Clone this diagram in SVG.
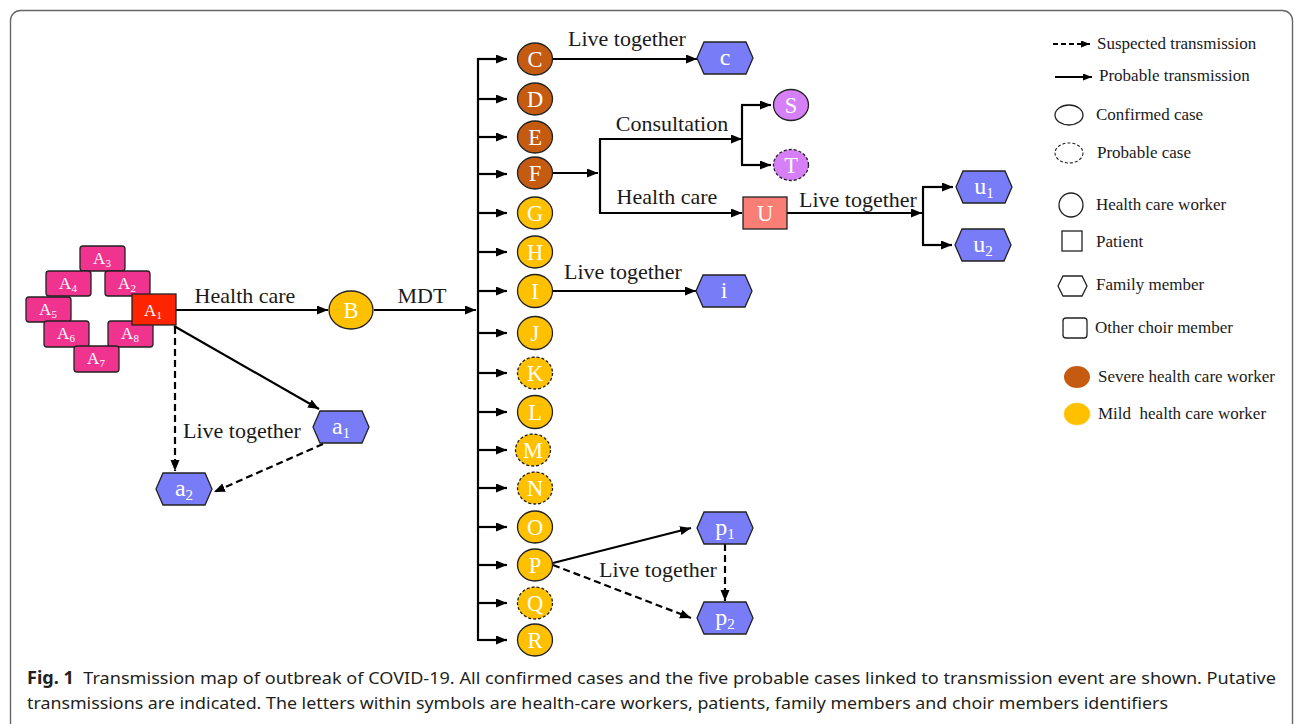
<svg xmlns="http://www.w3.org/2000/svg" width="1295" height="724" viewBox="0 0 1295 724">
<defs>
<marker id="ah" markerUnits="userSpaceOnUse" markerWidth="12" markerHeight="10" refX="11" refY="4.5" orient="auto">
<path d="M0,0 L11,4.5 L0,9 Z" fill="#000"/>
</marker>
<marker id="ahs" markerUnits="userSpaceOnUse" markerWidth="10" markerHeight="8" refX="9" refY="3.5" orient="auto">
<path d="M0,0 L9,3.5 L0,7 Z" fill="#000"/>
</marker>
<style>
.ln{stroke:#000;stroke-width:2.2;fill:none}
.dash{stroke-dasharray:7,4}
.arr{marker-end:url(#ah)}
.lbl{font-family:"Liberation Serif","Times New Roman",serif;font-size:22px;fill:#1a1a1a;text-anchor:middle}
.nt{font-family:"Liberation Serif","Times New Roman",serif;font-size:22.5px;fill:#fff;text-anchor:middle}
.at{font-family:"Liberation Serif","Times New Roman",serif;font-size:17px;fill:#fff;text-anchor:middle}
.ht{font-family:"Liberation Serif","Times New Roman",serif;font-size:24px;fill:#fff;text-anchor:middle}
.lg{font-family:"Liberation Serif","Times New Roman",serif;font-size:17px;fill:#1a1a1a}
.sev{fill:#c55a11;stroke:#222;stroke-width:1.3}
.mild{fill:#ffc000;stroke:#222;stroke-width:1.3}
.prob{stroke-dasharray:3,2}
.pur{fill:#d77ff6;stroke:#222;stroke-width:1.3}
.hex{fill:#797cf7;stroke:#222;stroke-width:1.3}
.ach{fill:#f0338f;stroke:#222;stroke-width:1.3}
.cap{font-family:"Noto Sans","Open Sans","Liberation Sans",sans-serif;font-size:17px;fill:#231f20}
</style>
</defs>
<rect x="10.5" y="10.5" width="1282" height="740" rx="10" fill="#fff" stroke="#666" stroke-width="1.4"/>

<g id="connectors">
<line class="ln arr" x1="176" y1="310" x2="328" y2="310"/>
<line class="ln arr" x1="374" y1="310" x2="476" y2="310"/>
<line class="ln" x1="478" y1="58" x2="478" y2="641"/>
<line class="ln arr" x1="477" y1="59" x2="507" y2="59"/>
<line class="ln arr" x1="477" y1="99" x2="507" y2="99"/>
<line class="ln arr" x1="477" y1="137" x2="507" y2="137"/>
<line class="ln arr" x1="477" y1="174" x2="507" y2="174"/>
<line class="ln arr" x1="477" y1="213" x2="507" y2="213"/>
<line class="ln arr" x1="477" y1="252" x2="507" y2="252"/>
<line class="ln arr" x1="477" y1="291" x2="507" y2="291"/>
<line class="ln arr" x1="477" y1="333" x2="507" y2="333"/>
<line class="ln arr" x1="477" y1="373" x2="507" y2="373"/>
<line class="ln arr" x1="477" y1="412" x2="507" y2="412"/>
<line class="ln arr" x1="477" y1="450" x2="507" y2="450"/>
<line class="ln arr" x1="477" y1="488" x2="507" y2="488"/>
<line class="ln arr" x1="477" y1="527" x2="507" y2="527"/>
<line class="ln arr" x1="477" y1="565" x2="507" y2="565"/>
<line class="ln arr" x1="477" y1="603" x2="507" y2="603"/>
<path class="ln arr" d="M478,640 L507,640"/>
<line class="ln arr" x1="553" y1="59" x2="697" y2="59"/>
<line class="ln arr" x1="553" y1="173" x2="598" y2="173"/>
<path class="ln" d="M600,139 L600,213"/>
<line class="ln arr" x1="599" y1="139" x2="742" y2="139"/>
<path class="ln" d="M742,105 L742,165"/>
<line class="ln arr" x1="741" y1="105" x2="771" y2="105"/>
<line class="ln arr" x1="741" y1="165" x2="771" y2="165"/>
<line class="ln arr" x1="599" y1="213" x2="742" y2="213"/>
<line class="ln arr" x1="787" y1="213" x2="922" y2="213"/>
<path class="ln" d="M923,187 L923,245"/>
<line class="ln arr" x1="922" y1="187" x2="953" y2="187"/>
<line class="ln arr" x1="922" y1="245" x2="952" y2="245"/>
<line class="ln arr" x1="553" y1="291" x2="696" y2="291"/>
<line class="ln arr" x1="174" y1="326" x2="319" y2="409"/>
<line class="ln dash arr" x1="175" y1="327" x2="175" y2="471"/>
<line class="ln dash arr" x1="323" y1="444" x2="214" y2="492"/>
<line class="ln arr" x1="553" y1="563" x2="691" y2="528"/>
<line class="ln dash arr" x1="553" y1="565" x2="691" y2="618"/>
<line class="ln dash arr" x1="725" y1="544" x2="725" y2="601"/>
</g>

<g id="labels">
<text class="lbl" x="245" y="303">Health care</text>
<text class="lbl" x="422" y="303">MDT</text>
<text class="lbl" x="627" y="46">Live together</text>
<text class="lbl" x="672" y="131">Consultation</text>
<text class="lbl" x="667" y="204">Health care</text>
<text class="lbl" x="858" y="207">Live together</text>
<text class="lbl" x="623" y="279">Live together</text>
<text class="lbl" x="242" y="438">Live together</text>
<text class="lbl" x="658" y="577">Live together</text>
</g>

<g id="node-A3"><rect class="ach" x="80" y="246" width="45" height="25" rx="3"/><text class="at" x="102" y="264">A<tspan font-size="11" dy="3">3</tspan></text></g>
<g id="node-A4"><rect class="ach" x="46" y="271" width="45" height="25" rx="3"/><text class="at" x="68" y="289">A<tspan font-size="11" dy="3">4</tspan></text></g>
<g id="node-A2"><rect class="ach" x="105" y="271" width="45" height="25" rx="3"/><text class="at" x="127" y="289">A<tspan font-size="11" dy="3">2</tspan></text></g>
<g id="node-A5"><rect class="ach" x="26" y="297" width="45" height="25" rx="3"/><text class="at" x="48" y="315">A<tspan font-size="11" dy="3">5</tspan></text></g>
<g id="node-A6"><rect class="ach" x="44" y="321" width="45" height="26" rx="3"/><text class="at" x="66" y="339">A<tspan font-size="11" dy="3">6</tspan></text></g>
<g id="node-A8"><rect class="ach" x="108" y="321" width="45" height="26" rx="3"/><text class="at" x="130" y="339">A<tspan font-size="11" dy="3">8</tspan></text></g>
<g id="node-A7"><rect class="ach" x="74" y="346" width="45" height="26" rx="3"/><text class="at" x="96" y="364">A<tspan font-size="11" dy="3">7</tspan></text></g>
<g id="node-A1"><rect x="132" y="294" width="44" height="31" fill="#ff2400" stroke="#222" stroke-width="1.3"/><text class="at" x="153" y="316">A<tspan font-size="11" dy="3">1</tspan></text></g>

<g id="node-B"><ellipse class="mild" cx="351" cy="310" rx="22" ry="19"/><text class="nt" x="351" y="318">B</text></g>

<g id="node-C"><ellipse class="sev" cx="535" cy="59" rx="17.5" ry="16"/><text class="nt" x="535" y="67">C</text></g>
<g id="node-D"><ellipse class="sev" cx="535" cy="99" rx="17.5" ry="16"/><text class="nt" x="535" y="107">D</text></g>
<g id="node-E"><ellipse class="sev" cx="535" cy="137" rx="17.5" ry="16"/><text class="nt" x="535" y="145">E</text></g>
<g id="node-F"><ellipse class="sev" cx="535" cy="173" rx="17.5" ry="16"/><text class="nt" x="535" y="181">F</text></g>
<g id="node-G"><ellipse class="mild" cx="535" cy="213" rx="17.5" ry="16"/><text class="nt" x="535" y="221">G</text></g>
<g id="node-H"><ellipse class="mild" cx="535" cy="252" rx="17.5" ry="16"/><text class="nt" x="535" y="260">H</text></g>
<g id="node-I"><ellipse class="mild" cx="535" cy="291" rx="17.5" ry="16.5"/><text class="nt" x="535" y="299">I</text></g>
<g id="node-J"><ellipse class="mild" cx="535" cy="333" rx="17.5" ry="16.5"/><text class="nt" x="535" y="341">J</text></g>
<g id="node-K"><ellipse class="mild prob" cx="535" cy="373" rx="17.5" ry="16"/><text class="nt" x="535" y="381">K</text></g>
<g id="node-L"><ellipse class="mild" cx="535" cy="412" rx="17.5" ry="16.5"/><text class="nt" x="535" y="420">L</text></g>
<g id="node-M"><ellipse class="mild prob" cx="533" cy="450" rx="17.5" ry="16"/><text class="nt" x="533" y="458">M</text></g>
<g id="node-N"><ellipse class="mild prob" cx="535" cy="488" rx="17.5" ry="16"/><text class="nt" x="535" y="496">N</text></g>
<g id="node-O"><ellipse class="mild" cx="535" cy="527" rx="17.5" ry="16"/><text class="nt" x="535" y="535">O</text></g>
<g id="node-P"><ellipse class="mild" cx="535" cy="565" rx="17.5" ry="16"/><text class="nt" x="535" y="573">P</text></g>
<g id="node-Q"><ellipse class="mild prob" cx="535" cy="603" rx="17.5" ry="16"/><text class="nt" x="535" y="611">Q</text></g>
<g id="node-R"><ellipse class="mild" cx="535" cy="640" rx="17.5" ry="16"/><text class="nt" x="535" y="648">R</text></g>

<g id="node-S"><ellipse class="pur" cx="791" cy="105" rx="17.5" ry="15.5"/><text class="nt" x="791" y="113">S</text></g>
<g id="node-T"><ellipse class="pur prob" cx="791" cy="165" rx="17.5" ry="15.5"/><text class="nt" x="791" y="173">T</text></g>
<g id="node-U"><rect x="743" y="197" width="44" height="32" fill="#f97e76" stroke="#222" stroke-width="1.3"/><text class="nt" x="765" y="221">U</text></g>

<g id="node-c"><polygon class="hex" points="704,42 746,42 753,58 746,74 704,74 697,58"/><text class="ht" x="725" y="65">c</text></g>
<g id="node-i"><polygon class="hex" points="703,275 745,275 752,291 745,307 703,307 696,291"/><text class="ht" x="724" y="298">i</text></g>
<g id="node-u1"><polygon class="hex" points="963,171 1005,171 1012,187 1005,203 963,203 956,187"/><text class="ht" x="984" y="194">u<tspan font-size="15" dy="4">1</tspan></text></g>
<g id="node-u2"><polygon class="hex" points="962,229 1004,229 1011,245 1004,261 962,261 955,245"/><text class="ht" x="983" y="252">u<tspan font-size="15" dy="4">2</tspan></text></g>
<g id="node-a1"><polygon class="hex" points="320,411 362,411 369,427 362,443 320,443 313,427"/><text class="ht" x="341" y="434">a<tspan font-size="15" dy="4">1</tspan></text></g>
<g id="node-a2"><polygon class="hex" points="163,473 205,473 212,489 205,505 163,505 156,489"/><text class="ht" x="184" y="496">a<tspan font-size="15" dy="4">2</tspan></text></g>
<g id="node-p1"><polygon class="hex" points="704,512 746,512 753,528 746,544 704,544 697,528"/><text class="ht" x="725" y="535">p<tspan font-size="15" dy="4">1</tspan></text></g>
<g id="node-p2"><polygon class="hex" points="704,602 746,602 753,618 746,634 704,634 697,618"/><text class="ht" x="725" y="625">p<tspan font-size="15" dy="4">2</tspan></text></g>

<g id="legend">
<line x1="1053" y1="44" x2="1090" y2="44" stroke="#000" stroke-width="2" stroke-dasharray="5,3" marker-end="url(#ahs)"/>
<text class="lg" x="1097" y="49">Suspected transmission</text>
<line x1="1055" y1="77" x2="1092" y2="77" stroke="#000" stroke-width="2" marker-end="url(#ahs)"/>
<text class="lg" x="1099" y="81">Probable transmission</text>
<ellipse cx="1069" cy="115" rx="14" ry="10" fill="#fff" stroke="#222" stroke-width="1.3"/>
<text class="lg" x="1096" y="120">Confirmed case</text>
<ellipse cx="1069" cy="153" rx="14" ry="10" fill="#fff" stroke="#222" stroke-width="1.1" stroke-dasharray="3,2"/>
<text class="lg" x="1097" y="158">Probable case</text>
<circle cx="1071" cy="205" r="12" fill="#fff" stroke="#222" stroke-width="1.3"/>
<text class="lg" x="1096" y="210">Health care worker</text>
<rect x="1062" y="231" width="20" height="20" fill="#fff" stroke="#222" stroke-width="1.3"/>
<text class="lg" x="1096" y="247">Patient</text>
<polygon points="1063,276 1082,276 1087,286 1082,296 1063,296 1058,286" fill="#fff" stroke="#222" stroke-width="1.3"/>
<text class="lg" x="1096" y="290">Family member</text>
<rect x="1063" y="318" width="24" height="20" rx="3" fill="#fff" stroke="#222" stroke-width="1.3"/>
<text class="lg" x="1095" y="333">Other choir member</text>
<ellipse cx="1077" cy="377" rx="13" ry="11" fill="#c55a11"/>
<text class="lg" x="1098" y="382">Severe health care worker</text>
<ellipse cx="1077" cy="414" rx="13" ry="11" fill="#ffc000" stroke="#ffd54a" stroke-width="1" stroke-dasharray="2,1"/>
<text class="lg" x="1098" y="419" xml:space="preserve">Mild  health care worker</text>
</g>

<g id="caption">
<text class="cap" x="27" y="684" textLength="1249" lengthAdjust="spacingAndGlyphs" xml:space="preserve"><tspan font-weight="bold">Fig. 1</tspan>  Transmission map of outbreak of COVID-19. All confirmed cases and the five probable cases linked to transmission event are shown. Putative</text>
<text class="cap" x="27" y="709" textLength="1141" lengthAdjust="spacingAndGlyphs">transmissions are indicated. The letters within symbols are health-care workers, patients, family members and choir members identifiers</text>
</g>
</svg>
